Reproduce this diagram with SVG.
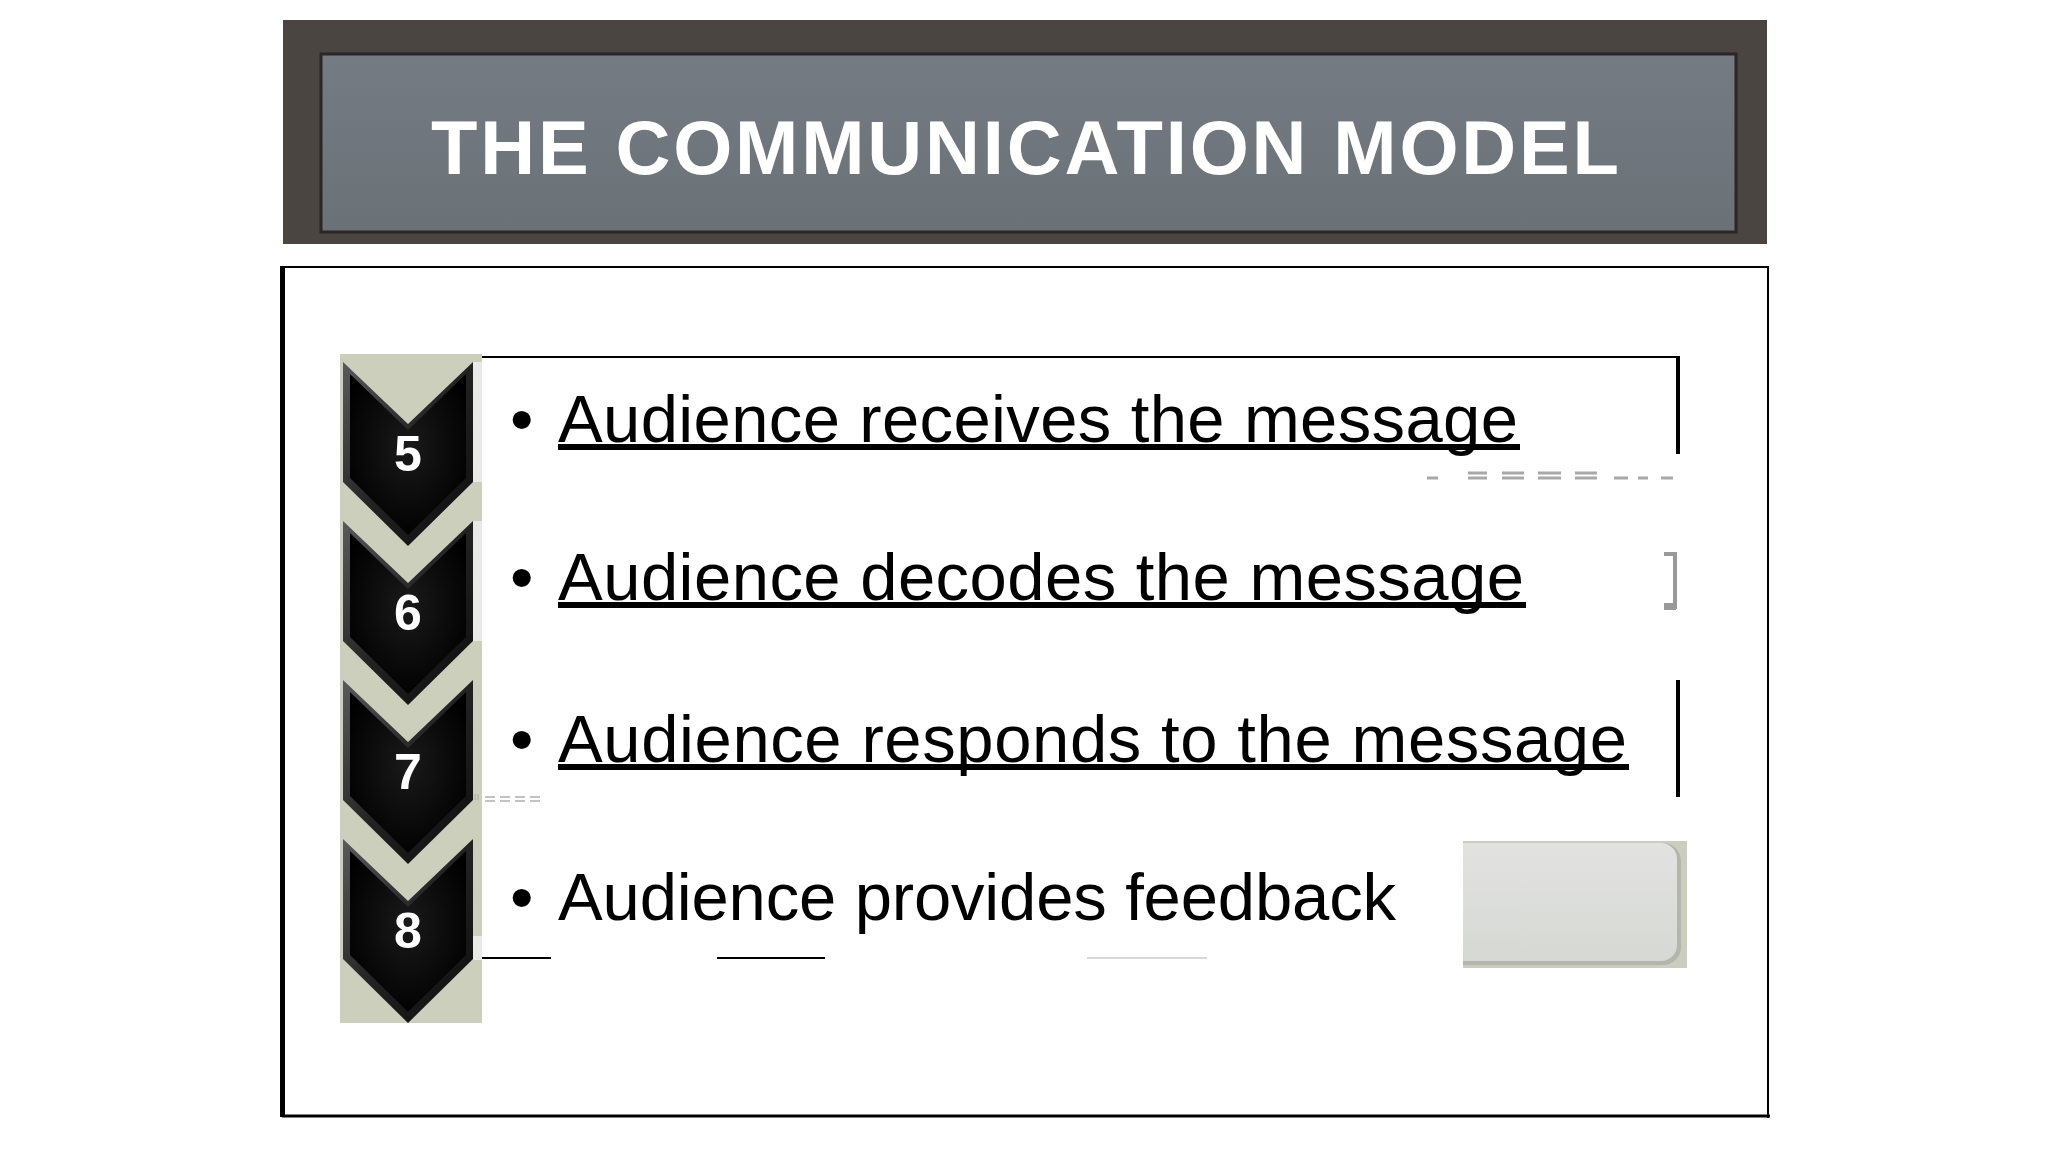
<svg xmlns="http://www.w3.org/2000/svg" width="2048" height="1152" viewBox="0 0 2048 1152">
  <defs>
    <linearGradient id="hdrInner" x1="0" y1="0" x2="0" y2="1">
      <stop offset="0" stop-color="#747b82"/>
      <stop offset="1" stop-color="#6a7177"/>
    </linearGradient>
    <linearGradient id="chevEdge" x1="0" y1="0" x2="1" y2="1">
      <stop offset="0" stop-color="#5a5a5a"/>
      <stop offset="0.5" stop-color="#222"/>
      <stop offset="1" stop-color="#0c0c0c"/>
    </linearGradient>
    <radialGradient id="chevCore" cx="0.5" cy="0.45" r="0.6">
      <stop offset="0" stop-color="#1a1a1a"/>
      <stop offset="1" stop-color="#000"/>
    </radialGradient>
    <linearGradient id="btnFill" x1="0" y1="0" x2="0" y2="1">
      <stop offset="0" stop-color="#e2e3e0"/>
      <stop offset="1" stop-color="#d6d8d4"/>
    </linearGradient>
    <polygon id="chevOuter" points="343,0 408,62 473,0 473,120 408,184 343,120"/>
    <polygon id="chevInner" points="350,12 408,68 466,12 466,116 408,173 350,116"/>
  </defs>
  <style>
    .title { font-family: "Liberation Sans", Arial, sans-serif; font-weight: bold; font-size: 76px; fill: #ffffff; }
    .num { font-family: "Liberation Sans", Arial, sans-serif; font-weight: bold; font-size: 50px; fill: #ffffff; text-anchor: middle; }
    .item { font-family: "Liberation Sans", Arial, sans-serif; font-size: 67px; fill: #000000; }
    .ul { fill: #000000; }
    .gray { stroke: #a8a8a8; stroke-width: 3; fill: none; }
  </style>

  <rect x="0" y="0" width="2048" height="1152" fill="#ffffff"/>

  <g id="header">
    <rect x="283" y="20" width="1484" height="224" fill="#4b4542"/>
    <rect x="321" y="54" width="1415" height="178" fill="url(#hdrInner)" stroke="#2b2725" stroke-width="3"/>
    <text class="title" x="431" y="174" textLength="1188" lengthAdjust="spacing">THE COMMUNICATION MODEL</text>
  </g>

  <g id="content-frame">
    <rect x="280" y="266" width="5" height="851" fill="#000"/>
    <line x1="282" y1="267" x2="1768" y2="267" stroke="#000" stroke-width="2"/>
    <line x1="1768" y1="266" x2="1768" y2="1118" stroke="#000" stroke-width="2"/>
    <line x1="282" y1="1116" x2="1770" y2="1116" stroke="#000" stroke-width="3"/>
  </g>

  <g id="chevron-panel">
    <rect x="340" y="354" width="142" height="669" fill="#cdcfbd"/>
    <rect x="473" y="362" width="9" height="120" fill="#e9e9e7"/>
    <rect x="473" y="521" width="9" height="120" fill="#e9e9e7"/>
    <rect x="473" y="936" width="9" height="24" fill="#e9e9e7"/>
  </g>

  <g id="step-5">
    <g transform="translate(0,362)">
      <use href="#chevOuter" fill="url(#chevEdge)"/>
      <use href="#chevInner" fill="url(#chevCore)"/>
    </g>
    <text class="num" x="408" y="471">5</text>
  </g>
  <g id="step-6">
    <g transform="translate(0,521)">
      <use href="#chevOuter" fill="url(#chevEdge)"/>
      <use href="#chevInner" fill="url(#chevCore)"/>
    </g>
    <text class="num" x="408" y="630">6</text>
  </g>
  <g id="step-7">
    <g transform="translate(0,680)">
      <use href="#chevOuter" fill="url(#chevEdge)"/>
      <use href="#chevInner" fill="url(#chevCore)"/>
    </g>
    <text class="num" x="408" y="789">7</text>
  </g>
  <g id="step-8">
    <g transform="translate(0,839)">
      <use href="#chevOuter" fill="url(#chevEdge)"/>
      <use href="#chevInner" fill="url(#chevCore)"/>
    </g>
    <text class="num" x="408" y="948">8</text>
  </g>

  <g id="item-1">
    <text class="item" x="510" y="442">•</text>
    <text class="item" x="558" y="442" textLength="960" lengthAdjust="spacing">Audience receives the message</text>
    <rect class="ul" x="558" y="444" width="962" height="6"/>
  </g>
  <g id="item-2">
    <text class="item" x="510" y="600">•</text>
    <text class="item" x="558" y="600" textLength="966" lengthAdjust="spacing">Audience decodes the message</text>
    <rect class="ul" x="558" y="602" width="968" height="6"/>
  </g>
  <g id="item-3">
    <text class="item" x="510" y="762">•</text>
    <text class="item" x="558" y="762" textLength="1069" lengthAdjust="spacing">Audience responds to the message</text>
    <rect class="ul" x="558" y="764" width="1071" height="6"/>
  </g>
  <g id="item-4">
    <text class="item" x="510" y="920">•</text>
    <text class="item" x="558" y="920" textLength="838" lengthAdjust="spacing">Audience provides feedback</text>
  </g>

  <g id="button">
    <rect x="1463" y="841" width="224" height="127" fill="#cbcdbe"/>
    <path d="M1463 843 H1663 A18 18 0 0 1 1681 861 V947 A18 18 0 0 1 1663 965 H1463 Z" fill="#b4b6ae"/>
    <path d="M1463 843 H1661 A16 16 0 0 1 1677 859 V945 A16 16 0 0 1 1661 961 H1463 Z" fill="url(#btnFill)"/>
  </g>

  <g id="connectors">
    <line x1="482" y1="357" x2="1680" y2="357" stroke="#000" stroke-width="2"/>
    <line x1="1678" y1="357" x2="1678" y2="454" stroke="#000" stroke-width="4"/>
    <line x1="1678" y1="680" x2="1678" y2="797" stroke="#000" stroke-width="4"/>
    <path class="gray" d="M1427 478 H1438 M1468 473 H1487 M1468 478 H1487 M1502 473 H1524 M1502 478 H1524 M1538 473 H1561 M1538 478 H1561 M1575 473 H1597 M1575 478 H1597 M1614 478 H1628 M1638 478 H1648 M1661 478 H1673"/>
    <path d="M1664 554 H1675 V607 H1665" stroke="#9a9a9a" stroke-width="4" fill="none"/>
    <rect x="1664" y="603" width="12" height="7" fill="#9a9a9a"/>
    <path d="M475 794 V800 M478 794 V800 M485 797 H495 M485 801 H495 M500 797 H510 M500 801 H510 M515 797 H525 M515 801 H525 M530 797 H540 M530 801 H540" stroke="#b0b0b0" stroke-width="1.3" fill="none"/>
    <line x1="482" y1="958" x2="551" y2="958" stroke="#000" stroke-width="2"/>
    <line x1="717" y1="958" x2="825" y2="958" stroke="#000" stroke-width="2"/>
    <line x1="1087" y1="958" x2="1207" y2="958" stroke="#d8d8d8" stroke-width="2"/>
  </g>
</svg>
